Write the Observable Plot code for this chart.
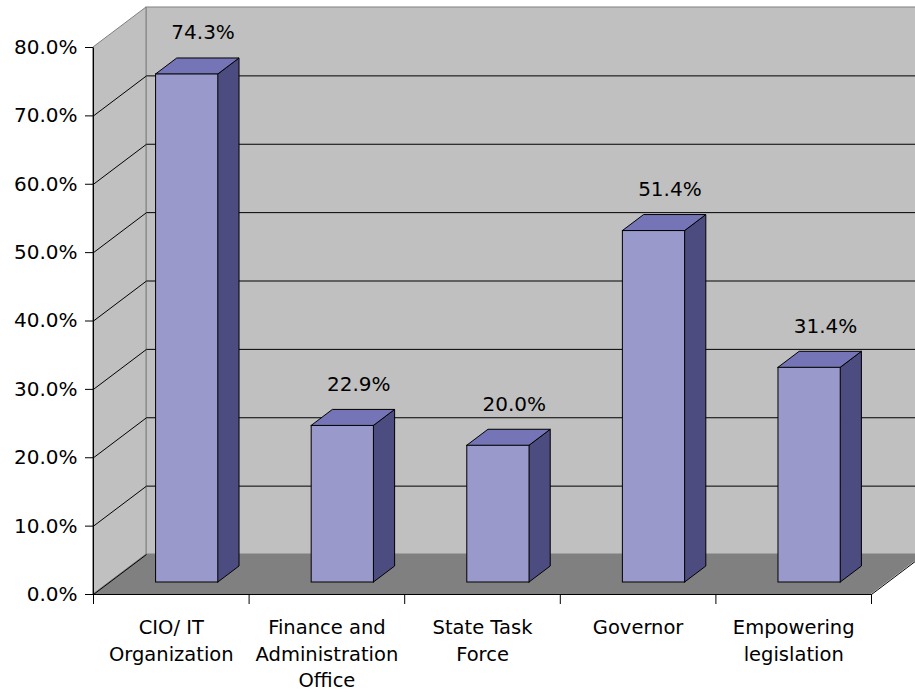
<!DOCTYPE html>
<html><head><meta charset="utf-8">
<script src="https://cdn.jsdelivr.net/npm/d3@7"></script>
<script src="https://cdn.jsdelivr.net/npm/@observablehq/plot@0.6"></script>
<style>html,body{margin:0;padding:0;background:#fff;overflow:hidden} #chart svg{display:block;overflow:hidden}</style>
</head><body><div id="chart"></div>
<script>
const categories = ["CIO/ IT\nOrganization", "Finance and\nAdministration\nOffice", "State Task\nForce", "Governor", "Empowering\nlegislation"];
const values = [74.3, 22.9, 20.0, 51.4, 31.4];
const yTicks = [0, 10, 20, 30, 40, 50, 60, 70, 80];

const W = 915, H = 694, mL = 93, mR = 44, mT = 47, mB = 100;
const n = categories.length, yMax = 80;
const xPx = (W - mL - mR) / n;
const yPx = (H - mT - mB) / yMax;
const DX = 53 / xPx, DY = 40 / yPx;       // depth of the 3D box in data units
const z0 = 0.3, z1 = 0.7, hw = 0.2;         // bar depth span and half width

const bars = values.map((v, i) => ({id: i, v, c: i + 0.5, label: categories[i]}));
const sides = bars.flatMap(b => [z0, z1].map(z => ({id: b.id, x: b.c + hw + z * DX, y1: z * DY, y2: b.v + z * DY})));
const tops = bars.flatMap(b => [z0, z1].map(z => ({id: b.id, y: b.v + z * DY, x1: b.c - hw + z * DX, x2: b.c + hw + z * DX})));
const gridLeft = yTicks.filter(t => t < yMax);
const gridBack = yTicks.filter(t => t > 0 && t < yMax);

const chart = Plot.plot({
  width: W, height: H,
  marginLeft: mL, marginRight: mR, marginTop: mT, marginBottom: mB,
  x: {domain: [0, n]},
  y: {domain: [0, yMax]},
  style: {fontFamily: "DejaVu Sans", fontSize: "20px", background: "#fff", color: "#000"},
  marks: [
    // back wall
    Plot.rect([{}], {x1: () => DX, x2: () => n + DX + 1, y1: () => DY, y2: () => yMax + DY, fill: "#C0C0C0", stroke: "#808080"}),
    // left wall
    Plot.areaY([{x: 0, y1: 0, y2: yMax}, {x: DX, y1: DY, y2: yMax + DY}], {x: "x", y1: "y1", y2: "y2", fill: "#C0C0C0", stroke: "#808080"}),
    // floor
    Plot.areaX([{y: 0, x1: 0, x2: n}, {y: DY, x1: DX, x2: n + DX}], {y: "y", x1: "x1", x2: "x2", fill: "#808080"}),
    // gridlines
    Plot.link(gridLeft, {x1: () => 0, y1: d => d, x2: () => DX, y2: d => d + DY, stroke: "#000", strokeWidth: 1}),
    Plot.link(gridBack, {x1: () => DX, y1: d => d + DY, x2: () => n + DX + 1, y2: d => d + DY, stroke: "#000", strokeWidth: 1}),
    // bars
    Plot.areaY(sides, {x: "x", y1: "y1", y2: "y2", z: "id", fill: "#4C4C80", stroke: "#000", strokeWidth: 1}),
    Plot.areaX(tops, {y: "y", x1: "x1", x2: "x2", z: "id", fill: "#7474B6", stroke: "#000", strokeWidth: 1}),
    Plot.rect(bars, {x1: b => b.c - hw + z0 * DX, x2: b => b.c + hw + z0 * DX, y1: () => z0 * DY, y2: b => b.v + z0 * DY, fill: "#9999CC", stroke: "#000", strokeWidth: 1}),
    // axis lines
    Plot.link([{}], {x1: () => 0, y1: () => 0, x2: () => 0, y2: () => yMax, stroke: "#000"}),
    Plot.link([{}], {x1: () => 0, y1: () => 0, x2: () => n, y2: () => 0, stroke: "#000"}),
    Plot.link([{}], {x1: () => n, y1: () => 0, x2: () => n + DX, y2: () => DY, stroke: "#000"}),
    Plot.axisY({ticks: yTicks, tickFormat: d => d.toFixed(1) + "%", tickSize: 8, tickPadding: 8, fontSize: 20, label: null}),
    Plot.axisX({ticks: d3.range(n + 1), tickFormat: () => "", tickSize: 10, label: null}),
    // category labels
    Plot.text(bars, {x: "c", y: () => 0, text: "label", lineAnchor: "top", dy: 20, lineHeight: 1.38, fontSize: 19.5, fill: "#000"}),
    // value labels
    Plot.text(bars, {x: b => b.c + 0.6 * DX, y: "v", text: b => b.v.toFixed(1) + "%", dy: -53.5, fontSize: 20, fill: "#000"})
  ]
});
document.getElementById("chart").appendChild(chart);
</script>
</body></html>
